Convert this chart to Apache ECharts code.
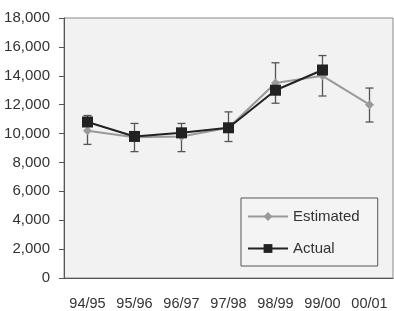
<!DOCTYPE html>
<html>
<head>
<meta charset="utf-8">
<script src="https://cdn.jsdelivr.net/npm/echarts@6/dist/echarts.min.js"></script>
<style>
  html, body { margin: 0; padding: 0; background: #fff; }
  #chart { width: 394px; height: 311px; }
</style>
</head>
<body>
<div id="chart"></div>
<script>
const seasons = ['94/95', '95/96', '96/97', '97/98', '98/99', '99/00', '00/01']
const estimated = [10200, 9750, 9800, 10400, 13500, 14000, 12000]
const actual = [10800, 9800, 10050, 10400, 13000, 14400, null]
const errLow = [9250, 8750, 8750, 9450, 12100, 12600, 10800]
const errHigh = [11250, 10700, 10700, 11500, 14900, 15400, 13150]
const yTicks = [0, 2000, 4000, 6000, 8000, 10000, 12000, 14000, 16000, 18000]

const chart = echarts.init(document.getElementById('chart'))
const font = 'Liberation Sans, Arial, sans-serif'

chart.setOption({
  animation: false,
  grid: {
    left: 64, right: 1, top: 18, bottom: 33,
    show: true, backgroundColor: '#f2f2f2', borderColor: '#8a8a8a', borderWidth: 1
  },
  legend: {
    data: ['Estimated', 'Actual'],
    orient: 'vertical',
    left: 241, top: 198,
    padding: [11, 18, 10, 6],
    itemGap: 17,
    itemWidth: 40, itemHeight: 11,
    backgroundColor: '#f4f4f4',
    borderColor: '#555', borderWidth: 1,
    textStyle: { fontFamily: font, fontSize: 15, color: '#333' }
  },
  xAxis: {
    type: 'category',
    data: seasons,
    axisLine: { lineStyle: { color: '#555' } },
    axisTick: { length: 5, lineStyle: { color: '#555' } },
    axisLabel: { fontFamily: font, fontSize: 14.5, color: '#333', margin: 18, interval: 0, hideOverlap: false }
  },
  yAxis: {
    type: 'value',
    min: yTicks[0], max: yTicks[yTicks.length - 1], interval: 2000,
    splitLine: { show: false },
    axisLine: { show: true, lineStyle: { color: '#555' } },
    axisTick: { show: true, length: 5, lineStyle: { color: '#555' } },
    axisLabel: {
      fontFamily: font, fontSize: 15, color: '#333', margin: 14,
      formatter: v => v.toLocaleString('en-US')
    }
  },
  series: [
    {
      name: 'errors',
      type: 'custom',
      z: 1,
      data: seasons.map((s, i) => [i, errLow[i], errHigh[i]]),
      renderItem: (params, api) => {
        const lo = api.coord([api.value(0), api.value(1)])
        const hi = api.coord([api.value(0), api.value(2)])
        const w = 4
        const style = { stroke: '#555', lineWidth: 1.3 }
        return {
          type: 'group',
          children: [
            { type: 'line', shape: { x1: lo[0], y1: lo[1], x2: hi[0], y2: hi[1] }, style },
            { type: 'line', shape: { x1: lo[0] - w, y1: lo[1], x2: lo[0] + w, y2: lo[1] }, style },
            { type: 'line', shape: { x1: hi[0] - w, y1: hi[1], x2: hi[0] + w, y2: hi[1] }, style }
          ]
        }
      }
    },
    {
      name: 'Estimated',
      type: 'line',
      z: 2,
      data: estimated,
      symbol: 'diamond',
      symbolSize: 9,
      itemStyle: { color: '#9a9a9a' },
      lineStyle: { color: '#9a9a9a', width: 2 }
    },
    {
      name: 'Actual',
      type: 'line',
      z: 3,
      data: actual,
      symbol: 'rect',
      symbolSize: 11,
      itemStyle: { color: '#222' },
      lineStyle: { color: '#222', width: 2 }
    }
  ]
})
</script>
</body>
</html>
